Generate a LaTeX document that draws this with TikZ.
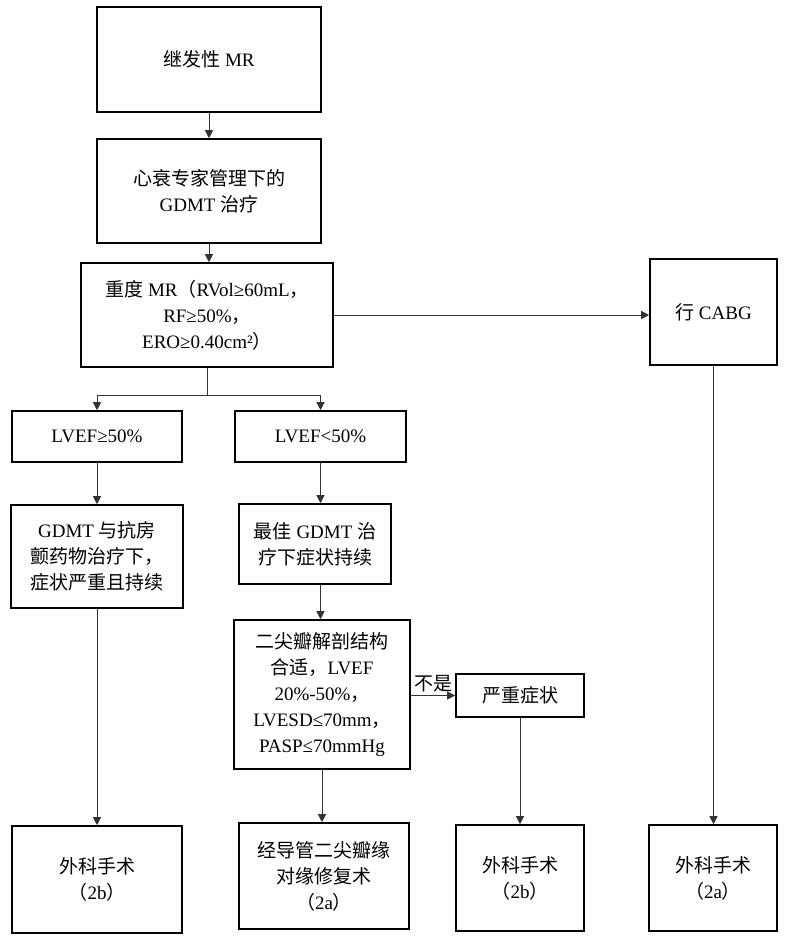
\documentclass[tikz,border=0pt]{standalone}
\usepackage{fontspec}
\setmainfont{Liberation Serif}
\newfontfamily\cjk{Noto Sans CJK SC}
\usetikzlibrary{arrows.meta}
\newcommand\zh[1]{{\cjk #1}}
\begin{document}
\begin{tikzpicture}[x=1pt,y=-1pt,
  box/.style={draw, line width=1.6pt, align=center, inner sep=0pt,
    font=\fontsize{19}{26}\selectfont},
  conn/.style={line width=0.9pt, draw=black!80},
  arr/.style={conn, -{Triangle[length=8pt,width=8pt]}},
  lbl/.style={font=\fontsize{19}{24}\selectfont, inner sep=3pt}]
\useasboundingbox (0,0) rectangle (788,943);
\fill[white] (0,0) rectangle (788,943);

\node[box, minimum width=224pt, minimum height=105pt] (b1) at (209,59.5) {\zh{继发性} MR};
\node[box, minimum width=224pt, minimum height=104pt] (b2) at (209,191) {\zh{心衰专家管理下的}\\GDMT \zh{治疗}};
\node[box, minimum width=252pt, minimum height=104pt] (b3) at (207,315) {\zh{重度} MR\zh{（}RVol≥60mL\zh{，}\\RF≥50\%\zh{，}\\ERO≥0.40cm²\zh{）}};
\node[box, minimum width=127pt, minimum height=106pt] (cabg) at (713.5,312) {\zh{行} CABG};

\node[box, minimum width=170pt, minimum height=51pt] (lv1) at (97,436.5) {LVEF≥50\%};
\node[box, minimum width=171pt, minimum height=51pt] (lv2) at (320.5,436.5) {LVEF<50\%};

\node[box, minimum width=172pt, minimum height=103pt] (g1) at (97,556.5) {GDMT \zh{与抗房}\\\zh{颤药物治疗下，}\\\zh{症状严重且持续}};
\node[box, minimum width=152pt, minimum height=80pt] (g2) at (315,544) {\zh{最佳} GDMT \zh{治}\\\zh{疗下症状持续}};

\node[box, minimum width=176pt, minimum height=149pt] (m) at (322,694.5) {\zh{二尖瓣解剖结构}\\\zh{合适，}LVEF\\20\%-50\%\zh{，}\\LVESD≤70mm\zh{，}\\PASP≤70mmHg};
\node[box, minimum width=128pt, minimum height=43pt] (sev) at (520,695.5) {\zh{严重症状}};

\node[box, minimum width=170pt, minimum height=107pt] (f1) at (97,879.5) {\zh{外科手术}\\\zh{（}2b\zh{）}};
\node[box, minimum width=170pt, minimum height=106pt] (f2) at (324,876) {\zh{经导管二尖瓣缘}\\\zh{对缘修复术}\\\zh{（}2a\zh{）}};
\node[box, minimum width=128pt, minimum height=106pt] (f3) at (520,878) {\zh{外科手术}\\\zh{（}2b\zh{）}};
\node[box, minimum width=128pt, minimum height=106pt] (f4) at (713,878) {\zh{外科手术}\\\zh{（}2a\zh{）}};

\draw[arr] (b1.south) -- (b2.north);
\draw[arr] (b2.south) -- (b2.south |- b3.north);
\draw[arr] (b3.east) -- (b3.east -| cabg.west);
\coordinate (split) at ([yshift=-28pt]b3.south);
\draw[arr] (b3.south) -- (split) -| (lv1.north);
\draw[arr] (split) -| (lv2.north);
\draw[arr] (lv1.south) -- (g1.north);
\draw[arr] (lv2.south) -- (lv2.south |- g2.north);
\draw[arr] (lv2.south |- g2.south) -- (lv2.south |- m.north);
\draw[arr] (m.east |- sev.west) -- node[lbl, above] {\zh{不是}} (sev.west);
\draw[arr] (g1.south) -- (f1.north);
\draw[arr] (m.south) -- (m.south |- f2.north);
\draw[arr] (sev.south) -- (f3.north);
\draw[arr] (cabg.south) -- (cabg.south |- f4.north);
\end{tikzpicture}
\end{document}
